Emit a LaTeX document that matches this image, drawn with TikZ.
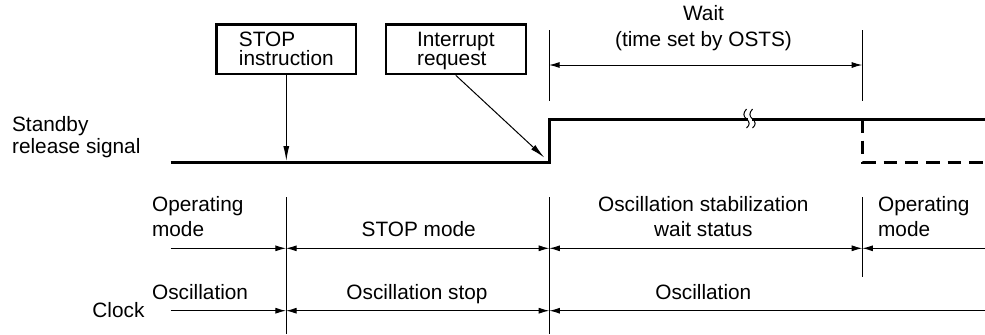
\documentclass[tikz,border=0pt]{standalone}
\usepackage{fontspec}
\setmainfont{Liberation Sans}
\usetikzlibrary{arrows.meta}
\begin{document}
\begin{tikzpicture}[x=0.5pt,y=-0.5pt,
  lbl/.style={inner sep=0pt, font=\fontsize{10.4}{12}\selectfont},
  boxnode/.style={draw, line width=1.2pt, align=left, inner sep=0pt,
    font=\fontsize{10.4}{9.5}\selectfont, text depth=0pt},
  thin/.style={line width=0.5pt},
  sig/.style={line width=1.5pt},
  sigdash/.style={line width=1.5pt, dash pattern=on 6.7pt off 4pt},
  dimboth/.style={thin, {Latex[length=5.3pt,width=3pt]}-{Latex[length=5.3pt,width=3pt]}},
  dimend/.style={thin, -{Latex[length=5.3pt,width=3pt]}},
  dimstart/.style={thin, {Latex[length=5.3pt,width=3pt]}-},
  pointer/.style={thin, -{Latex[length=7.5pt,width=3pt]}}
]
\useasboundingbox (0,0) rectangle (985,334);

% ---- boxes ----
\node[boxnode, minimum width=69.7pt, minimum height=24.9pt] (stop) at (286.3,49.2) {STOP\\instruction};
\node[boxnode, minimum width=69.9pt, minimum height=24.9pt] (int) at (455.8,49.2) {Interrupt\\request};

% ---- signal labels ----
\node[lbl, anchor=base west] (sb1) at (11.7,131.7) {Standby};
\node[lbl, anchor=base west] (sb2) at (11.7,153.3) {release signal};

% ---- signal coordinates ----
\coordinate (sigL) at (170.7,162.3);
\coordinate (riseB) at (549,162.3);
\coordinate (riseT) at (549,119.3);
\coordinate (sigR) at (985,119.3);
\coordinate (dashT) at (862.3,119.3);
\coordinate (dashB) at (862.3,162.3);
\coordinate (dashR) at (985,162.3);

\draw[sig] (sigL) -- (riseB) -- (riseT) -- (sigR);
\fill[white] (747.5,114) rectangle (751.5,125);
\draw[thin] (746.5,109) .. controls (743,113) and (743,116) .. (746.5,119) .. controls (750,122) and (750,125) .. (746.5,128);
\draw[thin] (752.5,109) .. controls (749,113) and (749,116) .. (752.5,119) .. controls (756,122) and (756,125) .. (752.5,128);
\draw[sigdash] (dashT) -- (dashB) -- (dashR);

% ---- pointers ----
\coordinate (stopEnd) at (stop.south |- 0,161);
\coordinate (intEnd) at (544.3,157.5);
\draw[pointer] (stop.south) -- (stopEnd);
\draw[pointer] (int.south) -- (intEnd);

% ---- wait dimension ----
\coordinate (wLt) at (549,30);
\coordinate (wLb) at (549,101);
\coordinate (wRt) at (862.3,30);
\coordinate (wRb) at (862.3,101);
\coordinate (wL) at (549,65);
\coordinate (wR) at (862.3,65);
\draw[thin] (wLt) -- (wLb);
\draw[thin] (wRt) -- (wRb);
\draw[dimboth] (wL) -- (wR);
\node[lbl, anchor=base] (wait1) at (703.5,20.7) {Wait};
\node[lbl, anchor=base] (wait2) at (703.5,46.7) {(time set by OSTS)};

% ---- mode / clock verticals ----
\coordinate (v1t) at (286,197);
\coordinate (v1b) at (286,334);
\coordinate (v2t) at (549.3,197);
\coordinate (v2b) at (549.3,334);
\coordinate (v3t) at (862.3,197);
\coordinate (v3b) at (862.3,276.7);
\draw[thin] (v1t) -- (v1b);
\draw[thin] (v2t) -- (v2b);
\draw[thin] (v3t) -- (v3b);

% ---- row 1: operating modes ----
\coordinate (m0) at (170.7,248.3);
\coordinate (m1) at (286,248.3);
\coordinate (m2) at (549.3,248.3);
\coordinate (m3) at (862.3,248.3);
\coordinate (m4) at (985,248.3);
\draw[dimend] (m0) -- (m1);
\draw[dimboth] (m1) -- (m2);
\draw[dimboth] (m2) -- (m3);
\draw[dimstart] (m3) -- (m4);

\node[lbl, anchor=base west] (op1a) at (151.7,211.7) {Operating};
\node[lbl, anchor=base west] (op1b) at (151.7,236) {mode};
\node[lbl, anchor=base] (stopmode) at (418.7,236) {STOP mode};
\node[lbl, anchor=base] (osw1) at (703.3,211.7) {Oscillation stabilization};
\node[lbl, anchor=base] (osw2) at (703.3,236) {wait status};
\node[lbl, anchor=base west] (op2a) at (877.7,211.7) {Operating};
\node[lbl, anchor=base west] (op2b) at (877.7,236) {mode};

% ---- row 2: clock ----
\coordinate (c0) at (170.7,310.7);
\coordinate (c1) at (286,310.7);
\coordinate (c2) at (549.3,310.7);
\coordinate (c3) at (985,310.7);
\draw[dimend] (c0) -- (c1);
\draw[dimboth] (c1) -- (c2);
\draw[dimstart] (c2) -- (c3);

\node[lbl, anchor=base west] (clk) at (92,317.7) {Clock};
\node[lbl, anchor=base west] (osc1) at (151.7,299.3) {Oscillation};
\node[lbl, anchor=base] (oscstop) at (417,299.3) {Oscillation stop};
\node[lbl, anchor=base] (osc2) at (703.3,299.3) {Oscillation};
\end{tikzpicture}
\end{document}
